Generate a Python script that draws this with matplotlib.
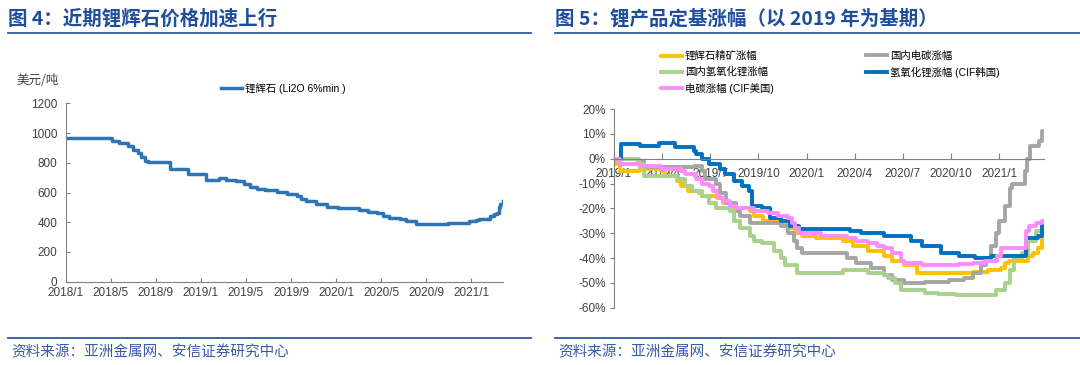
import matplotlib
matplotlib.use("Agg")
import matplotlib.pyplot as plt
from matplotlib.lines import Line2D
import numpy as np

plt.rcParams['font.family'] = ['Liberation Sans Narrow', 'Liberation Sans', 'Noto Sans CJK SC']
CJK = ['Noto Sans CJK SC', 'DejaVu Sans']

# ---- 图4 数据: 月份(自2018/1起), 美元/吨
spod_m = [0, 4.13, 4.74, 5.5, 5.96, 6.42, 6.72, 7.03, 7.33, 9.23, 10.85, 12.47, 13.6, 14.2,
          15.1, 15.8, 16.35, 16.96, 17.66, 18.73, 19.65, 20.5, 20.9, 21.3, 22.25, 23.17,
          24.2, 26.04, 26.8, 27.6, 28.2, 28.7, 29.7, 30.2, 31.1, 33.9, 35.8, 36.4, 36.7,
          37.7, 38.05, 38.26, 38.45, 38.6, 38.8]
spod_v = [965, 945, 930, 915, 885, 865, 840, 815, 805, 755, 725, 685, 695, 685,
          675, 655, 640, 625, 615, 605, 590, 575, 555, 540, 525, 505,
          495, 485, 470, 460, 440, 430, 420, 405, 390, 395, 405, 415, 425,
          445, 455, 465, 500, 525, 540]
left_ticks = ['2018/1', '2018/5', '2018/9', '2019/1', '2019/5', '2019/9', '2020/1',
              '2020/5', '2020/9', '2021/1']

# ---- 图5 数据: 月份(自2019/1起), 定基涨幅 %
yel_m = [0, 0.1, 0.37, 1.6, 1.85, 2.9, 3.15, 3.9, 4.2, 4.6, 5.3, 5.5, 6.4, 6.8, 7.4, 8.5, 8.7,
         9.3, 10.4, 10.85, 11.3, 11.7, 12.6, 14.3, 14.9, 15.8, 16.85, 17.3, 18.1, 18.9,
         22.4, 23.3, 24.1, 24.35, 24.6, 25.8, 26.1, 26.4, 26.7, 26.8]
yel_v = [0, -2, -5, -2.5, -4, -5, -7, -9, -11, -13, -14, -15, -16, -18, -20, -21, -23,
         -25, -26, -28, -30, -31, -32, -33, -35, -37, -39, -41, -43, -46,
         -45.5, -45, -44, -42, -41, -39, -38, -36, -30, -30]

gry_m = [0, 1.5, 1.9, 5.0, 5.5, 5.7, 6.35, 6.6, 7.0, 7.6, 7.85, 8.5, 10.4, 10.85, 11.2, 11.4,
         11.7, 14.5, 15.1, 16.0, 16.85, 17.3, 18.1, 19.4, 20.9, 21.8, 22.4, 22.85, 23.2,
         23.5, 23.8, 24.0, 24.35, 24.7, 24.8, 25.6, 25.75, 25.95, 26.5, 26.7, 26.8]
gry_v = [0, -1, -3.5, -3, -5, -8, -10, -14, -18, -21, -23, -26, -27, -30, -33, -36,
         -38, -40, -42, -44, -47, -49, -50, -49.5, -49, -48, -46, -43, -40,
         -35, -30, -25, -19, -12, -10, -5, 0, 5, 7, 11, 11]

grn_m = [0, 1.55, 1.85, 4.0, 4.4, 4.85, 5.5, 5.9, 6.35, 7.2, 7.5, 7.85, 8.5, 8.7, 9.25, 10.0,
         10.4, 10.65, 11.4, 14.3, 15.8, 16.85, 17.1, 17.5, 17.9, 19.4, 20.2, 21.3, 23.8,
         24.35, 24.7, 24.9, 25.4, 25.8, 26.3, 26.7, 26.8]
grn_v = [0, -2, -7, -8, -11, -13, -15, -18, -20, -21, -25, -28, -31, -33, -34, -37,
         -40, -43, -46, -45, -46, -47, -48, -50, -53, -54, -54.5, -55, -53,
         -50, -45, -40, -38, -33, -29, -27, -27]

blu_m = [0, 0.45, 1.65, 2.8, 3.8, 4.97, 5.1, 5.5, 5.9, 6.6, 6.9, 7.5, 8.0, 8.4, 8.6, 9.2,
         9.7, 10.4, 10.95, 11.5, 14.7, 15.4, 16.8, 18.5, 19.2, 20.4, 21.5, 22.5, 23.5,
         25.7, 26.4, 26.7, 26.8]
blu_v = [0, 6, 5, 6.3, 4.5, 3, 2, 0, -2, -4, -6, -9, -11, -13, -19, -20,
         -24, -25, -27, -28.5, -29, -30, -31, -33, -35, -38, -39, -40, -39,
         -32, -31, -27, -27]

pnk_m = [0, 0.37, 1.65, 2.9, 4.2, 4.4, 5.1, 5.5, 5.9, 6.15, 6.4, 6.6, 6.8, 7.2, 7.6, 8.7,
         9.6, 10.2, 10.85, 11.1, 11.3, 11.5, 12.9, 14.5, 15.1, 15.8, 16.4, 16.85, 17.3,
         17.9, 18.1, 19.2, 21.5, 22.4, 23.1, 23.9, 24.1, 25.7, 25.85, 26.3, 26.7, 26.8]
pnk_v = [0, -2, -3, -4, -5, -6, -8, -10, -11, -13, -15, -16, -17, -19, -20, -21,
         -22, -23, -24, -26, -28, -30, -31, -32, -33, -34, -35, -36, -38,
         -41, -42, -43, -42.5, -42, -41, -39, -36, -29, -27, -26, -25, -25]

right_ticks = ['2019/1', '2019/4', '2019/7', '2019/10', '2020/1', '2020/4', '2020/7',
               '2020/10', '2021/1']

W, H = 1080, 365
fig = plt.figure(figsize=(W / 100, H / 100), dpi=100)
title_c = '#1F4E9C'
rule_c = '#2F55A4'
spine_c = '#808080'


def fx(px):
    return px / W


def fy(py):
    return 1 - py / H


# 标题、分隔线、资料来源
fig.text(fx(8), fy(19), '图 4：近期锂辉石价格加速上行', fontsize=14, weight='bold',
         color=title_c, va='center', family=CJK)
fig.text(fx(555), fy(19), '图 5：锂产品定基涨幅（以 2019 年为基期）', fontsize=14,
         weight='bold', color=title_c, va='center', family=CJK)
for x0, x1 in [(8, 531), (555, 1080)]:
    fig.add_artist(Line2D([fx(x0), fx(x1)], [fy(33), fy(33)], color=rule_c, lw=1.3,
                          transform=fig.transFigure))
    fig.add_artist(Line2D([fx(x0), fx(x1)], [fy(338), fy(338)], color=rule_c, lw=1.3,
                          transform=fig.transFigure))
    fig.text(fx(x0 + 3), fy(352), '资料来源：亚洲金属网、安信证券研究中心', fontsize=10.5,
             color='#3A5AA8', va='center', family=CJK, style='italic')

# ---- 左图
ax1 = fig.add_axes([fx(65.7), fy(281.7), fx(502.7 - 65.7), (281.7 - 103.3) / H])
ln, = ax1.plot(spod_m, spod_v, drawstyle='steps-post', color='#2E75B6', lw=2.5,
               solid_joinstyle='round')
ax1.set_xlim(0, 38.8)
ax1.set_ylim(0, 1200)
ax1.set_yticks(np.arange(0, 1201, 200))
ax1.set_xticks(np.arange(0, 37, 4))
ax1.set_xticklabels(left_ticks)
for s in ['top', 'right']:
    ax1.spines[s].set_visible(False)
for s in ['left', 'bottom']:
    ax1.spines[s].set_color(spine_c)
    ax1.spines[s].set_linewidth(0.8)
ax1.tick_params(direction='in', length=3, color=spine_c, labelsize=8.5,
                labelcolor='#404040', pad=4)
ax1.tick_params(axis='y', pad=6)
fig.text(fx(38), fy(80), '美元/吨', fontsize=9, color='#404040', ha='center',
         va='center', family=CJK)
fig.legend([ln], ['锂辉石 (Li2O 6%min )'], loc='center left',
           bbox_to_anchor=(fx(221), fy(88)), frameon=False, fontsize=7.5,
           handlelength=2.0, handletextpad=0.3, borderpad=0, borderaxespad=0)

# ---- 右图
ax2 = fig.add_axes([fx(614), fy(307.7), fx(1044 - 614), (307.7 - 109) / H])
series = [
    (yel_m, yel_v, '#FFC000', '锂辉石精矿涨幅'),
    (gry_m, gry_v, '#A5A5A5', '国内电碳涨幅'),
    (grn_m, grn_v, '#A9D18E', '国内氢氧化锂涨幅'),
    (blu_m, blu_v, '#0070C0', '氢氧化锂涨幅 (CIF韩国)'),
    (pnk_m, pnk_v, '#FF8CFF', '电碳涨幅 (CIF美国)'),
]
hs = {}
for m, v, c, lab in series:
    h, = ax2.plot(m, v, drawstyle='steps-post', color=c, lw=2.8,
                  solid_joinstyle='round')
    hs[lab] = h
ax2.set_xlim(0, 26.8)
ax2.set_ylim(-60, 20)
ax2.set_yticks(np.arange(-60, 21, 10))
ax2.set_yticklabels(['%d%%' % t for t in range(-60, 21, 10)])
ax2.set_xticks(np.arange(0, 25, 3))
ax2.set_xticklabels(right_ticks)
ax2.spines['bottom'].set_position(('data', 0))
for s in ['top', 'right']:
    ax2.spines[s].set_visible(False)
for s in ['left', 'bottom']:
    ax2.spines[s].set_color(spine_c)
    ax2.spines[s].set_linewidth(0.8)
ax2.tick_params(axis='x', direction='in', length=4, color=spine_c, labelsize=8.5,
                labelcolor='#404040', pad=7)
ax2.tick_params(axis='y', direction='out', length=3, color=spine_c, labelsize=8.5,
                labelcolor='#404040', pad=3)

col1 = ['锂辉石精矿涨幅', '国内氢氧化锂涨幅', '电碳涨幅 (CIF美国)']
col2 = ['国内电碳涨幅', '氢氧化锂涨幅 (CIF韩国)']
for labs, x in [(col1, 661), (col2, 866)]:
    fig.legend([hs[l] for l in labs], labs, loc='upper left',
               bbox_to_anchor=(fx(x), fy(51)), frameon=False, fontsize=7.5,
               handlelength=2.0, handletextpad=0.3, borderpad=0, borderaxespad=0,
               labelspacing=0.55)

fig.savefig('out.png', dpi=100)
